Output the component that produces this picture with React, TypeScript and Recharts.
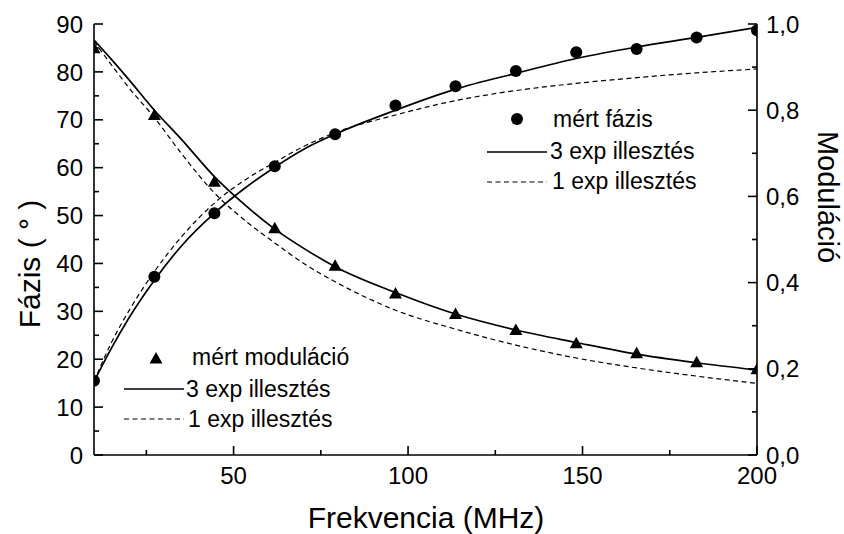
import React from 'react';
import { ComposedChart, Line, Scatter, XAxis, YAxis } from 'recharts';

// Measurement frequencies (MHz)
const freqs = [10, 27.3, 44.5, 61.8, 79.1, 96.4, 113.6, 130.9, 148.2, 165.5, 182.7, 200];
// Measured phase (degrees)
const phaseMeasured = [15.5, 37.2, 50.5, 60.3, 67.0, 73.0, 77.0, 80.2, 84.1, 84.8, 87.2, 88.7];
// Measured modulation
const modMeasured = [0.944, 0.789, 0.634, 0.526, 0.439, 0.375, 0.327, 0.29, 0.259, 0.236, 0.215, 0.199];

// Frequencies at which the fitted curves are sampled
const fitFreqs = [10, 15, 20, 27.3, 35, 44.5, 53, 61.8, 70, 79.1, 96.4, 113.6, 130.9, 148.2, 165.5, 182.7, 200];
// Phase, 3-exponential fit
const phaseFit3 = [15.3, 22.3, 28.6, 36.5, 43.6, 50.5, 55.6, 60.1, 63.8, 67.0, 72.0, 76.4, 79.7, 82.8, 85.2, 87.2, 89.3];
// Phase, 1-exponential fit
const phaseFit1 = [15.3, 23.5, 30.1, 38.3, 45.5, 52.6, 57.3, 61.1, 64.4, 67.3, 71.0, 74.0, 76.1, 77.6, 78.8, 79.8, 80.6];
// Modulation, 3-exponential fit
const modFit3 = [0.963, 0.918, 0.871, 0.8, 0.733, 0.646, 0.582, 0.524, 0.48, 0.437, 0.377, 0.327, 0.29, 0.261, 0.234, 0.214, 0.197];
// Modulation, 1-exponential fit
const modFit1 = [0.96, 0.905, 0.852, 0.783, 0.7, 0.608, 0.546, 0.492, 0.445, 0.402, 0.336, 0.292, 0.255, 0.225, 0.202, 0.183, 0.166];

// Axis ticks (major + minor)
const xTicks = [25, 50, 75, 100, 125, 150, 175, 200];
const xLabels = [50, 100, 150, 200];
const leftTicks = [0, 5, 10, 15, 20, 25, 30, 35, 40, 45, 50, 55, 60, 65, 70, 75, 80, 85, 90];
const leftLabels = [0, 10, 20, 30, 40, 50, 60, 70, 80, 90];
const rightTicks = [0, 0.1, 0.2, 0.3, 0.4, 0.5, 0.6, 0.7, 0.8, 0.9, 1.0];
const rightLabels = ['0,0', '0,2', '0,4', '0,6', '0,8', '1,0'];

const pts = (xs: number[], ys: number[]) => xs.map((f, i) => ({ f, v: ys[i] }));

const FONT = '"Liberation Sans", Arial, Helvetica, sans-serif';
const TICK_FS = 24;
const MAJOR = 9;
const MINOR = 5;
const AXIS_W = 1.6;

const BottomTick = (props: any) => {
  const { x, y, payload } = props;
  const v = payload.value;
  const major = xLabels.indexOf(v) >= 0;
  return (
    <g>
      <line x1={x} y1={y} x2={x} y2={y - (major ? MAJOR : MINOR)} stroke="#000" strokeWidth={AXIS_W} />
      {major && (
        <text x={x} y={y + 29} textAnchor="middle" fontFamily={FONT} fontSize={TICK_FS} fill="#000">
          {v}
        </text>
      )}
    </g>
  );
};

const TopTick = (props: any) => {
  const { x, y, payload } = props;
  const major = xLabels.indexOf(payload.value) >= 0;
  return <line x1={x} y1={y} x2={x} y2={y + (major ? MAJOR : MINOR)} stroke="#000" strokeWidth={AXIS_W} />;
};

const LeftTick = (props: any) => {
  const { x, y, payload } = props;
  const v = payload.value;
  const major = leftLabels.indexOf(v) >= 0;
  return (
    <g>
      <line x1={x} y1={y} x2={x + (major ? MAJOR : MINOR)} y2={y} stroke="#000" strokeWidth={AXIS_W} />
      {major && (
        <text x={x - 11} y={y} dy="0.36em" textAnchor="end" fontFamily={FONT} fontSize={TICK_FS} fill="#000">
          {v}
        </text>
      )}
    </g>
  );
};

const RightTick = (props: any) => {
  const { x, y, payload, index } = props;
  const major = index % 2 === 0;
  return (
    <g>
      <line x1={x} y1={y} x2={x - (major ? MAJOR : MINOR)} y2={y} stroke="#000" strokeWidth={AXIS_W} />
      {major && (
        <text x={x + 9} y={y} dy="0.36em" textAnchor="start" fontFamily={FONT} fontSize={TICK_FS} fill="#000">
          {rightLabels[index / 2]}
        </text>
      )}
    </g>
  );
};

const Dot = (props: any) => <circle cx={props.cx} cy={props.cy} r={6} fill="#000" />;

const Tri = (props: any) => {
  const { cx, cy } = props;
  return <polygon points={`${cx},${cy - 6.5} ${cx - 6.5},${cy + 5} ${cx + 6.5},${cy + 5}`} fill="#000" />;
};

const DASH = '5 3.5';

export default function App() {
  return (
    <div style={{ position: 'absolute', left: 0, top: 0, width: 844, height: 534, background: '#fff' }}>
      <ComposedChart width={844} height={534} margin={{ top: 24, right: 0, bottom: 0, left: 0 }}>
        <XAxis
          xAxisId={0}
          type="number"
          dataKey="f"
          domain={[10, 200]}
          ticks={xTicks}
          interval={0}
          height={79}
          tickSize={0}
          tickMargin={0}
          tickLine={false}
          axisLine={{ stroke: '#000', strokeWidth: AXIS_W }}
          tick={<BottomTick />}
          allowDataOverflow
        />
        <XAxis
          xAxisId="top"
          orientation="top"
          type="number"
          dataKey="f"
          domain={[10, 200]}
          ticks={xTicks}
          interval={0}
          height={0}
          tickSize={0}
          tickMargin={0}
          tickLine={false}
          axisLine={{ stroke: '#000', strokeWidth: AXIS_W }}
          tick={<TopTick />}
          allowDataOverflow
        />
        <YAxis
          yAxisId="left"
          type="number"
          domain={[0, 90]}
          ticks={leftTicks}
          interval={0}
          width={94}
          tickSize={0}
          tickMargin={0}
          tickLine={false}
          axisLine={{ stroke: '#000', strokeWidth: AXIS_W }}
          tick={<LeftTick />}
          allowDataOverflow
        />
        <YAxis
          yAxisId="right"
          orientation="right"
          type="number"
          domain={[0, 1]}
          ticks={rightTicks}
          interval={0}
          width={87}
          tickSize={0}
          tickMargin={0}
          tickLine={false}
          axisLine={{ stroke: '#000', strokeWidth: AXIS_W }}
          tick={<RightTick />}
          allowDataOverflow
        />

        <Line
          yAxisId="left"
          data={pts(fitFreqs, phaseFit1)}
          dataKey="v"
          type="monotone"
          stroke="#000"
          strokeWidth={1.2}
          strokeDasharray={DASH}
          dot={false}
          activeDot={false}
          isAnimationActive={false}
        />
        <Line
          yAxisId="left"
          data={pts(fitFreqs, phaseFit3)}
          dataKey="v"
          type="monotone"
          stroke="#000"
          strokeWidth={1.7}
          dot={false}
          activeDot={false}
          isAnimationActive={false}
        />
        <Line
          yAxisId="right"
          data={pts(fitFreqs, modFit1)}
          dataKey="v"
          type="monotone"
          stroke="#000"
          strokeWidth={1.2}
          strokeDasharray={DASH}
          dot={false}
          activeDot={false}
          isAnimationActive={false}
        />
        <Line
          yAxisId="right"
          data={pts(fitFreqs, modFit3)}
          dataKey="v"
          type="monotone"
          stroke="#000"
          strokeWidth={1.7}
          dot={false}
          activeDot={false}
          isAnimationActive={false}
        />
        <Scatter
          yAxisId="left"
          data={pts(freqs, phaseMeasured)}
          dataKey="v"
          shape={<Dot />}
          isAnimationActive={false}
        />
        <Scatter
          yAxisId="right"
          data={pts(freqs, modMeasured)}
          dataKey="v"
          shape={<Tri />}
          isAnimationActive={false}
        />
      </ComposedChart>

      <svg
        width={844}
        height={534}
        style={{ position: 'absolute', left: 0, top: 0, pointerEvents: 'none' }}
        fontFamily={FONT}
      >
        {/* axis titles */}
        <text x={426} y={528} textAnchor="middle" fontSize={30} fill="#000">
          Frekvencia (MHz)
        </text>
        <text
          x={29}
          y={264}
          textAnchor="middle"
          dy="0.36em"
          fontSize={30}
          fill="#000"
          transform="rotate(-90 29 264)"
        >
          Fázis ( ° )
        </text>
        <text
          x={828}
          y={197}
          textAnchor="middle"
          dy="0.36em"
          fontSize={29}
          fill="#000"
          transform="rotate(90 828 197)"
        >
          Moduláció
        </text>

        {/* phase legend */}
        <circle cx={517} cy={119} r={6} fill="#000" />
        <text x={553} y={127} fontSize={23} fill="#000">mért fázis</text>
        <line x1={487} y1={152} x2={547} y2={152} stroke="#000" strokeWidth={1.7} />
        <text x={550} y={158.5} fontSize={23} fill="#000">3 exp illesztés</text>
        <line x1={487} y1={182} x2={547} y2={182} stroke="#000" strokeWidth={1.2} strokeDasharray={DASH} />
        <text x={552} y={188.5} fontSize={23} fill="#000">1 exp illesztés</text>

        {/* modulation legend */}
        <polygon points="156,352 149.5,363.5 162.5,363.5" fill="#000" />
        <text x={192} y={365} fontSize={23} fill="#000">mért moduláció</text>
        <line x1={124} y1={389} x2={184} y2={389} stroke="#000" strokeWidth={1.7} />
        <text x={186} y={397} fontSize={23} fill="#000">3 exp illesztés</text>
        <line x1={124} y1={419} x2={184} y2={419} stroke="#000" strokeWidth={1.2} strokeDasharray={DASH} />
        <text x={188} y={427} fontSize={23} fill="#000">1 exp illesztés</text>
      </svg>
    </div>
  );
}
